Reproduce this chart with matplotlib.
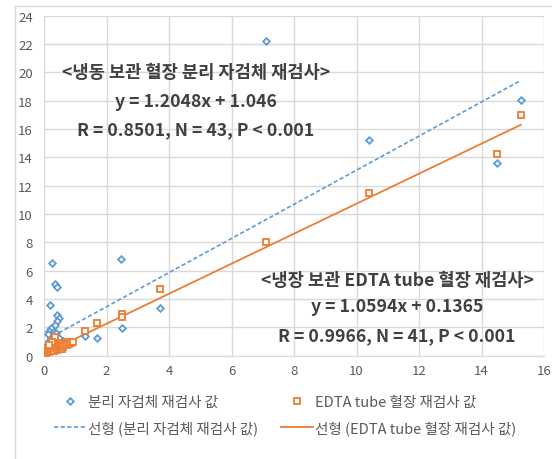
import matplotlib
matplotlib.use("Agg")
import matplotlib.pyplot as plt
from matplotlib.lines import Line2D
import numpy as np

plt.rcParams['font.family'] = ['Noto Sans CJK KR', 'DejaVu Sans']

# ---- data ----
sep_x = [7.10, 15.26, 10.40, 14.50, 2.46, 0.26, 0.34, 0.42, 0.20, 3.71, 0.42, 0.47,
         0.42, 0.34, 2.50, 0.23, 0.16, 0.31, 0.20, 1.31, 1.71,
         0.10, 0.12, 0.15, 0.18, 0.20, 0.22, 0.25, 0.28, 0.30, 0.33, 0.35, 0.38,
         0.40, 0.45, 0.48, 0.52, 0.55, 0.60, 0.65, 0.70, 0.14, 0.38]
sep_y = [22.20, 18.07, 15.24, 13.62, 6.84, 6.54, 5.08, 4.85, 3.55, 3.39, 2.90, 2.68,
         2.42, 2.14, 1.98, 1.97, 1.72, 1.69, 1.43, 1.36, 1.27,
         0.45, 0.80, 1.05, 0.30, 0.62, 1.20, 0.90, 0.50, 1.35, 0.75, 1.10, 0.40,
         0.95, 0.65, 1.25, 0.85, 0.55, 1.05, 0.70, 0.95, 1.50, 1.60]

edta_x = [15.26, 14.50, 10.40, 7.10, 3.71, 2.50, 2.50, 1.71, 1.31, 0.77, 0.66,
          0.08, 0.10, 0.12, 0.15, 0.18, 0.20, 0.22, 0.25, 0.28, 0.30, 0.33, 0.35,
          0.38, 0.40, 0.42, 0.45, 0.48, 0.50, 0.52, 0.55, 0.58, 0.60, 0.62, 0.68,
          0.72, 0.80, 0.85, 0.93, 0.25, 0.15]
edta_y = [17.00, 14.25, 11.50, 8.05, 4.73, 2.92, 2.73, 2.30, 1.72, 0.96, 0.85,
          0.20, 0.35, 0.50, 0.25, 0.40, 0.60, 0.30, 0.45, 0.70, 1.06, 0.35, 1.30,
          0.55, 0.80, 0.40, 0.65, 0.50, 0.90, 0.60, 0.75, 0.45, 0.59, 0.70, 0.80,
          0.75, 0.85, 0.90, 0.97, 0.95, 0.75]

sep_fit = [1.2048, 1.046]     # slope, intercept
edta_fit = [1.0594, 0.1365]

x_ticks = [0, 2, 4, 6, 8, 10, 12, 14, 16]
y_ticks = [0, 2, 4, 6, 8, 10, 12, 14, 16, 18, 20, 22, 24]

lab_sep = '분리 자검체 재검사 값'
lab_edta = 'EDTA tube 혈장 재검사 값'
lab_sep_fit = '선형 (분리 자검체 재검사 값)'
lab_edta_fit = '선형 (EDTA tube 혈장 재검사 값)'

ann1 = ['<냉동 보관 혈장 분리 자검체 재검사>', 'y = 1.2048x + 1.046', 'R = 0.8501, N = 43, P < 0.001']
ann2 = ['<냉장 보관 EDTA tube 혈장 재검사>', 'y = 1.0594x + 0.1365', 'R = 0.9966, N = 41, P < 0.001']

BLUE = '#5B9BD5'
ORANGE = '#ED7D31'
GRID = '#D9D9D9'
TXT = '#595959'
ANN = '#404040'

W, H = 552, 460
fig = plt.figure(figsize=(W / 100, H / 100), dpi=100)
ax = fig.add_axes([44 / W, 1 - 356.7 / H, (544 - 44) / W, (356.7 - 16.7) / H])

ax.set_xlim(0, 16)
ax.set_ylim(0, 24)
ax.set_xticks(x_ticks)
ax.set_yticks(y_ticks)
ax.grid(True, color=GRID, lw=1.0)
ax.set_axisbelow(True)
for s in ax.spines.values():
    s.set_visible(False)
ax.spines['bottom'].set_visible(True)
ax.spines['bottom'].set_color(GRID)
ax.tick_params(length=0, labelsize=9.5, labelcolor=TXT)
ax.tick_params(axis='y', pad=8)
ax.tick_params(axis='x', pad=6)

# trend lines
sx = np.array([min(sep_x), max(sep_x)])
ex = np.array([min(edta_x), max(edta_x)])
dash = (0, (2.5, 1.5))
ax.plot(sx, sep_fit[0] * sx + sep_fit[1], color=BLUE, lw=1.2, ls=dash, zorder=2)
ax.plot(ex, edta_fit[0] * ex + edta_fit[1], color=ORANGE, lw=1.3, zorder=2)

# points
mk_sep = dict(ls='none', marker='D', ms=3.4, mfc='white', mec=BLUE, mew=1.3)
mk_edta = dict(ls='none', marker='s', ms=4.8, mfc='white', mec=ORANGE, mew=1.3)
ax.plot(sep_x, sep_y, zorder=3, **mk_sep)
ax.plot(edta_x, edta_y, zorder=4, **mk_edta)

# annotations
for txt, yv in zip(ann1, [20, 18, 16]):
    ax.text(4.86, yv, txt, ha='center', va='center', fontsize=12.7, fontweight='bold', color=ANN)
for txt, yv in zip(ann2, [5.36, 3.49, 1.46]):
    ax.text(11.3, yv, txt, ha='center', va='center', fontsize=12.7, fontweight='bold', color=ANN)

# legend
handles = [
    Line2D([], [], **mk_sep),
    Line2D([], [], color=BLUE, lw=1.2, ls=dash),
    Line2D([], [], **mk_edta),
    Line2D([], [], color=ORANGE, lw=1.3),
]
labels = [lab_sep, lab_sep_fit, lab_edta, lab_edta_fit]
leg = fig.legend(handles, labels, ncol=2, frameon=False, loc='upper left',
                 bbox_to_anchor=(54 / W, 1 - 396 / H), fontsize=10.5,
                 handlelength=2.2, handletextpad=0.1, columnspacing=1.6,
                 labelspacing=0.75, borderaxespad=0, borderpad=0)
for t in leg.get_texts():
    t.set_color(TXT)

# chart outer border (left and top edges visible)
fig.add_artist(Line2D([15 / W, 15 / W], [0, 1 - 7 / H], color=GRID, lw=1.0))
fig.add_artist(Line2D([15 / W, 1], [1 - 7 / H, 1 - 7 / H], color=GRID, lw=1.0))

fig.savefig('out.png', dpi=100)
